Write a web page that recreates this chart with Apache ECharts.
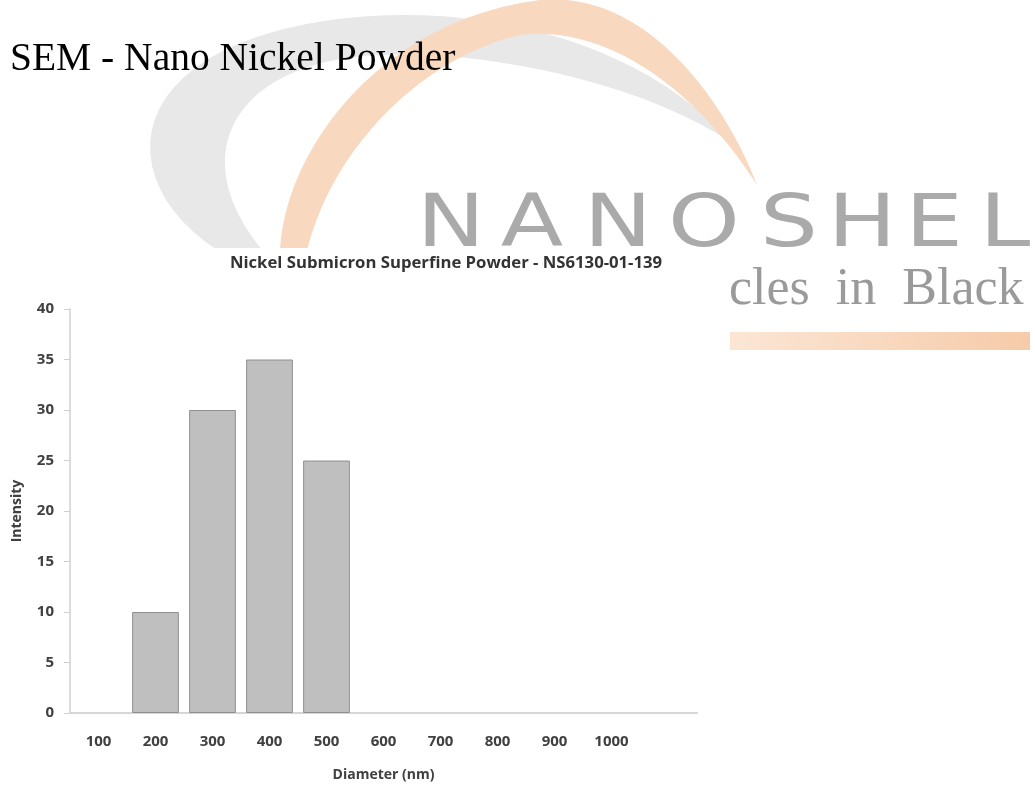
<!DOCTYPE html>
<html>
<head>
<meta charset="utf-8">
<script src="https://cdn.jsdelivr.net/npm/echarts@6/dist/echarts.min.js"></script>
<style>
html,body{margin:0;padding:0;background:#fff;}
#chart{width:1035px;height:787px;}
</style>
</head>
<body>
<div id="chart"></div>
<script>
// ---- data ----
const categories = ['100', '200', '300', '400', '500', '600', '700', '800', '900', '1000', ''];
const intensity = [0, 10, 30, 35, 25, 0, 0, 0, 0, 0, 0];
const yTicks = { min: 0, max: 40, interval: 5 };
const chartTitle = 'Nickel Submicron Superfine Powder - NS6130-01-139';
const xAxisName = 'Diameter (nm)';
const yAxisName = 'Intensity';
const slideTitle = 'SEM - Nano Nickel Powder';
const logoLetters = ['N', 'A', 'N', 'O', 'S', 'H', 'E', 'L'];
const logoTagline = 'cles  in  Black';

// ---- decoration (logo watermark) geometry ----
function bezierOutline(start, segs) {
  const pts = [start];
  let p0 = start;
  segs.forEach(s => {
    const [c1, c2, p3] = s;
    for (let i = 1; i <= 24; i++) {
      const t = i / 24, u = 1 - t;
      pts.push([
        u*u*u*p0[0] + 3*u*u*t*c1[0] + 3*u*t*t*c2[0] + t*t*t*p3[0],
        u*u*u*p0[1] + 3*u*u*t*c1[1] + 3*u*t*t*c2[1] + t*t*t*p3[1]
      ]);
    }
    p0 = p3;
  });
  return pts;
}
const grayArc = bezierOutline([217, 250], [
  [[110, 180], [120, 50], [330, 20]],
  [[480, 0], [640, 40], [735, 145]],
  [[640, 80], [480, 50], [380, 55]],
  [[240, 60], [180, 150], [262, 250]]
]);
const orangeArc = bezierOutline([280, 250], [
  [[285, 150], [380, 20], [540, 0]],
  [[640, -10], [720, 90], [757, 185]],
  [[690, 80], [600, 25], [520, 35]],
  [[430, 55], [335, 140], [307, 250]]
]);
const letterCenters = [451, 532, 618, 704, 789, 862, 934, 1005];
const lab = { fontFamily: 'Open Sans', fontWeight: 700, color: '#404040' };

const graphics = [
  { type: 'polygon', z: -5, shape: { points: grayArc }, style: { fill: '#e8e8e8' } },
  { type: 'polygon', z: -4, shape: { points: orangeArc }, style: { fill: '#f8d8bf' } },
  { type: 'rect', z: -3, shape: { x: 730, y: 332, width: 300, height: 18 },
    style: { fill: { type: 'linear', x: 0, y: 0, x2: 1, y2: 0,
      colorStops: [{ offset: 0, color: '#fbe6d5' }, { offset: 1, color: '#f6cba9' }] } } },
  { type: 'text', z: -3, style: { x: 729, y: 290, text: logoTagline, textAlign: 'left', textVerticalAlign: 'middle',
      font: '52px "Liberation Serif", "Times New Roman", serif', fill: '#9a9a9a' } },
  { type: 'rect', z: -2, shape: { x: 0, y: 248, width: 728, height: 540 }, style: { fill: '#ffffff' } },
  { type: 'text', z: 10, style: { x: 10, y: 60, text: slideTitle, textAlign: 'left', textVerticalAlign: 'middle',
      font: '39.5px "Liberation Serif", "Times New Roman", serif', fill: '#000000' } }
];
logoLetters.forEach((ch, i) => {
  graphics.push({ type: 'text', z: -3, x: letterCenters[i], y: 227, scaleX: 1.25,
    style: { x: 0, y: 0, text: ch, textAlign: 'center', textVerticalAlign: 'middle',
      font: '73px "DejaVu Sans", sans-serif', fill: '#aaaaaa' } });
});

const chart = echarts.init(document.getElementById('chart'), null, { renderer: 'canvas' });
chart.setOption({
  backgroundColor: '#ffffff',
  animation: false,
  title: {
    text: chartTitle, left: 441, top: 250, textAlign: 'center',
    textStyle: { fontFamily: 'Open Sans', fontWeight: 700, fontSize: 16.7, color: '#333333' }
  },
  grid: { left: 70, right: 338, top: 309, bottom: 74, containLabel: false },
  xAxis: {
    type: 'category', data: categories,
    axisLine: { show: true, lineStyle: { color: '#d6d6d6', width: 2 } },
    axisTick: { show: false },
    axisLabel: Object.assign({ fontSize: 15, margin: 21, interval: 0 }, lab),
    name: xAxisName, nameLocation: 'middle', nameGap: 55,
    nameTextStyle: Object.assign({ fontSize: 14 }, lab)
  },
  yAxis: {
    type: 'value', min: yTicks.min, max: yTicks.max, interval: yTicks.interval,
    axisLine: { show: true, lineStyle: { color: '#d0d0d0', width: 1.5 } },
    axisTick: { show: true, length: 6, lineStyle: { color: '#d0d0d0' } },
    splitLine: { show: false },
    axisLabel: Object.assign({ fontSize: 15, margin: 16 }, lab),
    name: yAxisName, nameLocation: 'middle', nameGap: 46, nameRotate: 90,
    nameTextStyle: Object.assign({ fontSize: 14 }, lab)
  },
  series: [{
    type: 'bar',
    // zero-height bins draw nothing in the reference
    data: intensity.map(v => (v === 0 ? null : v)),
    barCategoryGap: '18%',
    itemStyle: { color: '#bfbfbf', borderColor: '#8f8f8f', borderWidth: 1 }
  }],
  graphic: graphics
});
</script>
</body>
</html>
